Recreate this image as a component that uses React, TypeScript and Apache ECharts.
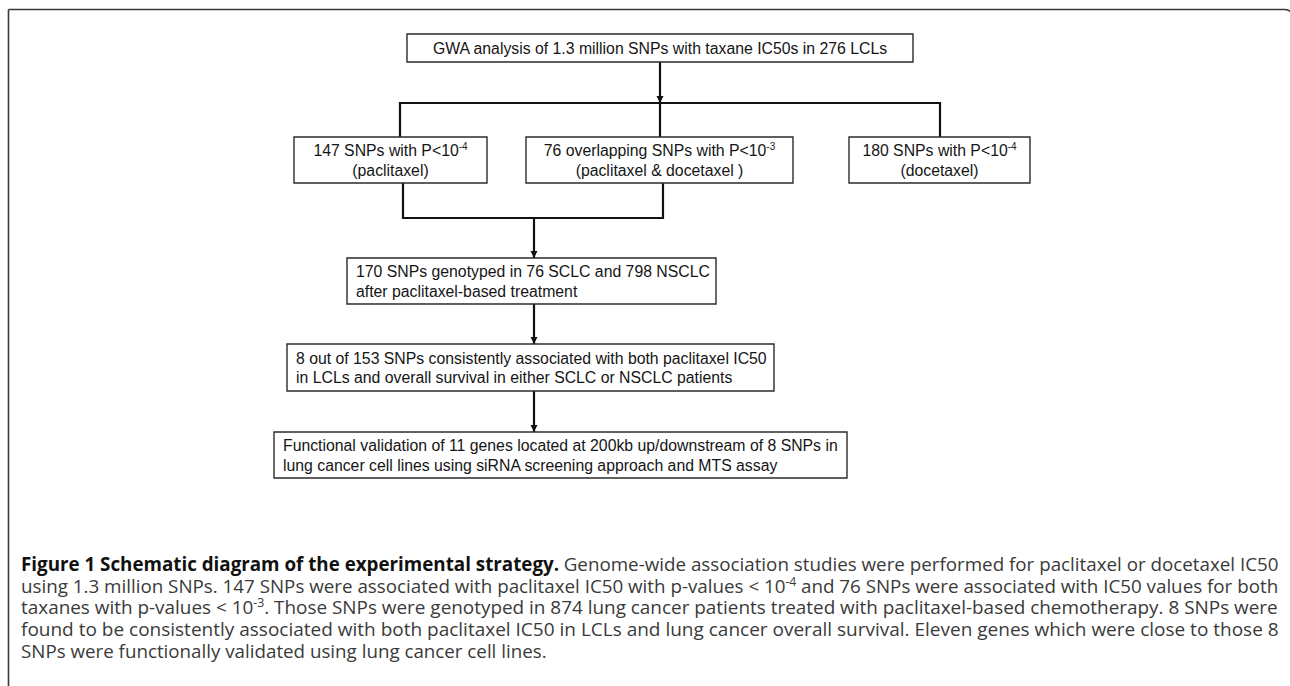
import React, { useEffect, useRef } from 'react';
import * as echarts from 'echarts';

// ---- Flowchart content ----
const headerLabels = ['GWA analysis of 1.3 million SNPs with taxane IC50s in 276 LCLs'];
const branchLabels = [
  '147 SNPs with P<10{sup|-4}\n(paclitaxel)',
  '76 overlapping SNPs with P<10{sup|-3}\n(paclitaxel & docetaxel )',
  '180 SNPs with P<10{sup|-4}\n(docetaxel)',
];
const stepLabels = [
  '170 SNPs genotyped in 76 SCLC and 798 NSCLC\nafter paclitaxel-based treatment',
  '8 out of 153 SNPs consistently associated with both paclitaxel IC50\nin LCLs and overall survival in either SCLC or NSCLC patients',
  'Functional validation of 11 genes located at 200kb up/downstream of 8 SNPs in\nlung cancer cell lines using siRNA screening approach and MTS assay',
];
// caption lines as [style, text] segments
const captionLines: [string, string][][] = [
  [['b', 'Figure 1 Schematic diagram of the experimental strategy.'], ['n', ' Genome-wide association studies were performed for paclitaxel or docetaxel IC50']],
  [['n', 'using 1.3 million SNPs. 147 SNPs were associated with paclitaxel IC50 with p-values < 10'], ['sup', '-4'], ['n', ' and 76 SNPs were associated with IC50 values for both']],
  [['n', 'taxanes with p-values < 10'], ['sup', '-3'], ['n', '. Those SNPs were genotyped in 874 lung cancer patients treated with paclitaxel-based chemotherapy. 8 SNPs were']],
  [['n', 'found to be consistently associated with both paclitaxel IC50 in LCLs and lung cancer overall survival. Eleven genes which were close to those 8']],
  [['n', 'SNPs were functionally validated using lung cancer cell lines.']],
];

const BOX_FONT = '"Liberation Sans", Arial, sans-serif';
const CAP_FAMILY = 'Open Sans';

export default function App() {
  const ref = useRef<HTMLDivElement>(null);
  useEffect(() => {
    const chart = echarts.init(ref.current!, null, { renderer: 'svg', width: 1290, height: 686 });

    const cv = document.createElement('canvas');
    const ctx = cv.getContext('2d')!;
    const measure = (segs: [string, string][], size: number) => {
      let w = 0;
      for (const [k, t] of segs) {
        const s = k === 'sup' ? size * 0.65 : size;
        ctx.font = `${k === 'b' ? 'bold ' : ''}${s}px "${CAP_FAMILY}"`;
        w += ctx.measureText(t).width;
      }
      return w;
    };
    const capRight = 1278;
    const capLeft = 21;
    const target = capRight - capLeft;
    const capSize = (target / measure(captionLines[0], 100)) * 100;

    const boxStroke = { fill: '#fff', stroke: '#2b2b2b', lineWidth: 1.4 };
    const lineStyle = { stroke: '#111', lineWidth: 2.2, fill: 'none' };
    const els: any[] = [];

    // outer frame
    els.push({
      type: 'rect',
      shape: { x: 8.5, y: 9.5, width: 1286, height: 720, r: [0, 10, 0, 0] },
      style: { fill: 'none', stroke: '#3a3a3a', lineWidth: 1.6 },
      silent: true,
    });

    const supRich = { sup: { fontSize: 10, lineHeight: 13, verticalAlign: 'top', fontFamily: BOX_FONT, fill: '#1a1a1a' } };

    const addBox = (x: number, y: number, w: number, h: number, text: string, align: 'center' | 'left') => {
      els.push({ type: 'rect', shape: { x, y, width: w, height: h }, style: boxStroke, z: 2 });
      els.push({
        type: 'text',
        z: 3,
        style: {
          x: align === 'center' ? x + w / 2 : x + 9,
          y: y + h / 2 + 0.5,
          text,
          align,
          verticalAlign: 'middle',
          fontFamily: BOX_FONT,
          fontSize: 15.8,
          lineHeight: 19.5,
          fill: '#151515',
          rich: supRich,
        },
      });
    };
    const addLine = (pts: number[][]) => {
      els.push({ type: 'polyline', shape: { points: pts }, style: lineStyle, z: 1 });
    };
    const addArrow = (x: number, yTip: number) => {
      els.push({
        type: 'polygon',
        shape: { points: [[x - 3.5, yTip - 7], [x + 3.5, yTip - 7], [x, yTip]] },
        style: { fill: '#111' },
        z: 4,
      });
    };

    // header
    addBox(407, 34, 506, 28, headerLabels[0], 'center');
    addLine([[660, 62], [660, 137]]);
    addArrow(660, 103);
    addLine([[400, 137], [400, 103], [940, 103], [940, 137]]);

    // branches
    const branchX = [294, 526, 849];
    const branchW = [193, 267, 181];
    branchLabels.forEach((t, i) => addBox(branchX[i], 137, branchW[i], 46, t, 'center'));
    addLine([[403, 183], [403, 218], [663, 218], [663, 183]]);

    // steps
    const stepX = [347, 287, 274];
    const stepW = [369, 487, 573];
    const stepY = [258, 344, 432];
    const stepH = [46, 47, 46];
    addLine([[534, 218], [534, 258]]);
    addArrow(534, 258);
    stepLabels.forEach((t, i) => addBox(stepX[i], stepY[i], stepW[i], stepH[i], t, 'left'));
    addLine([[534, 304], [534, 344]]);
    addArrow(534, 344);
    addLine([[534, 391], [534, 432]]);
    addArrow(534, 432);

    // caption
    const capY = [564, 586, 607, 629, 650];
    captionLines.forEach((segs, i) => {
      const natural = measure(segs, capSize);
      const sx = i < captionLines.length - 1 ? target / natural : 1;
      const text = segs.map(([k, t]) => (k === 'n' ? t : `{${k}|${t}}`)).join('');
      els.push({
        type: 'text',
        x: capLeft,
        y: capY[i],
        scaleX: sx,
        z: 3,
        style: {
          x: 0,
          y: 0,
          text,
          align: 'left',
          verticalAlign: 'middle',
          fontFamily: CAP_FAMILY,
          fontSize: capSize,
          lineHeight: 21,
          fill: '#3a3a3a',
          rich: {
            b: { fontFamily: CAP_FAMILY, fontSize: capSize, fontWeight: 'bold', fill: '#111', lineHeight: 21 },
            sup: { fontFamily: CAP_FAMILY, fontSize: capSize * 0.65, lineHeight: 12, verticalAlign: 'top', fill: '#3a3a3a' },
          },
        },
      });
    });

    chart.setOption({ animation: false, backgroundColor: '#fff', graphic: { elements: els } });
    return () => chart.dispose();
  }, []);
  return (
    <div
      ref={ref}
      style={{ position: 'fixed', left: 0, top: 0, width: 1290, height: 686, background: '#fff' }}
    />
  );
}
